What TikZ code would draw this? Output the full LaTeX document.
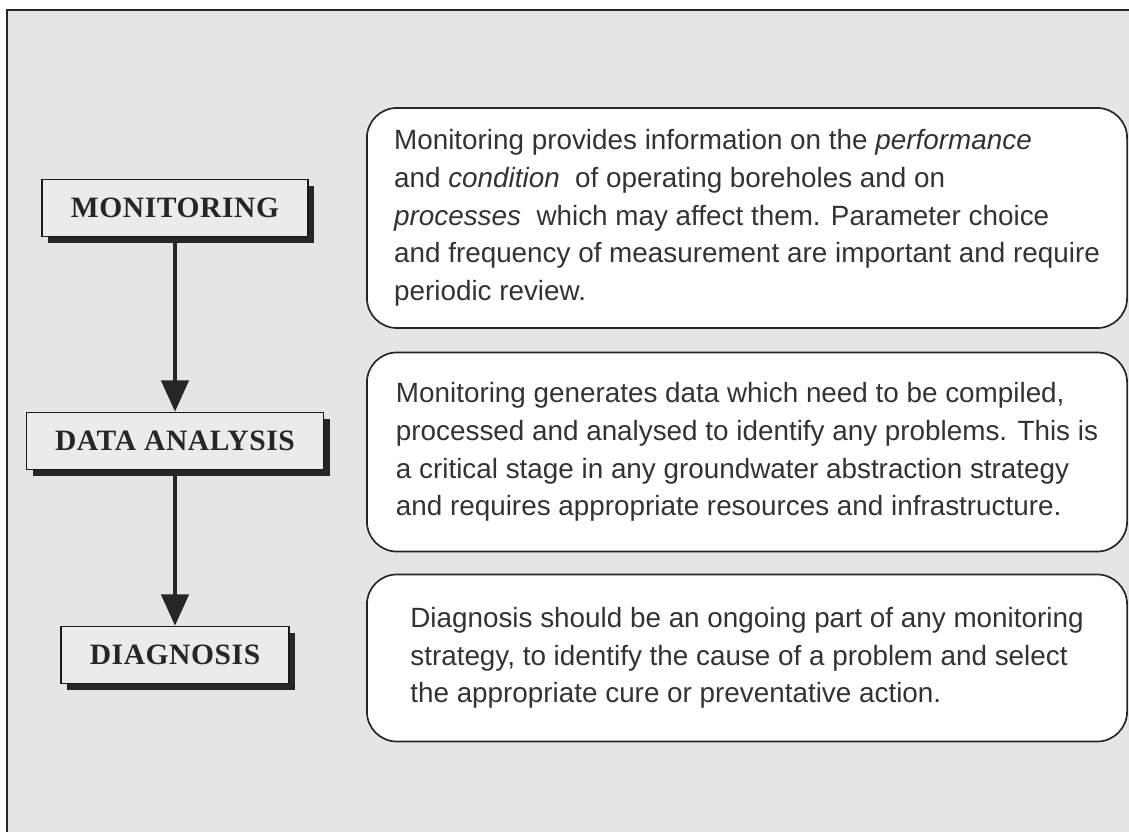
\documentclass[tikz,border=0pt]{standalone}
\usepackage{fontspec}
\setmainfont{Liberation Sans}
\newfontfamily\headfont[LetterSpace=2]{Liberation Serif}
\usetikzlibrary{arrows.meta,shadows}

\begin{document}
\begin{tikzpicture}[x=0.025cm, y=-0.025cm,
    stage/.style={draw=black!90, line width=1pt, fill=black!8, inner xsep=0.72cm, minimum height=1.43cm,
      font=\headfont\bfseries\fontsize{21}{25}\selectfont, text=black!85,
      drop shadow={shadow xshift=0.16cm, shadow yshift=-0.16cm, fill=black!85, opacity=1}},
    note/.style={draw=black!85, line width=1.2pt, fill=white, rounded corners=0.75cm,
      minimum width=19cm, align=left, font=\fontsize{19.8}{26.8}\selectfont, text=black!80},
    flow/.style={line width=2.6pt, draw=black!85, -{Triangle[width=0.68cm,length=0.78cm]}}]
    \useasboundingbox (0,0) rectangle (1129,832);
    % panel
    \fill [black!10] (7,10) rectangle (1129,832);
    \draw [line width=1.2pt, black!85] (1129,10) -- (7,10) -- (7,832);

    \node [stage] (mon) at (175,208) {MONITORING};
    \node [stage] (data) at (175,441) {DATA ANALYSIS};
    \node [stage] (diag) at (175,655) {DIAGNOSIS};
    \draw [flow] (mon) -- (data);
    \draw [flow] (data) -- (diag);

    \node [note, minimum height=5.5cm] (montxt) at (747,218) {Monitoring provides information on the \textit{performance}\\
      and \textit{condition}~ of operating boreholes and on\\
      \textit{processes}~ which may affect them. Parameter choice\\
      and frequency of measurement are important and require\\
      periodic review.};
    \node [note, minimum height=4.975cm] (datatxt) at (747,452) {Monitoring generates data which need to be compiled,\\
      processed and analysed to identify any problems. This is\\
      a critical stage in any groundwater abstraction strategy\\
      and requires appropriate resources and infrastructure.};
    \node [note, minimum height=4.175cm] (diagtxt) at (747,658) {Diagnosis should be an ongoing part of any monitoring\\
      strategy, to identify the cause of a problem and select\\
      the appropriate cure or preventative action.};
  \end{tikzpicture}
\end{document}
